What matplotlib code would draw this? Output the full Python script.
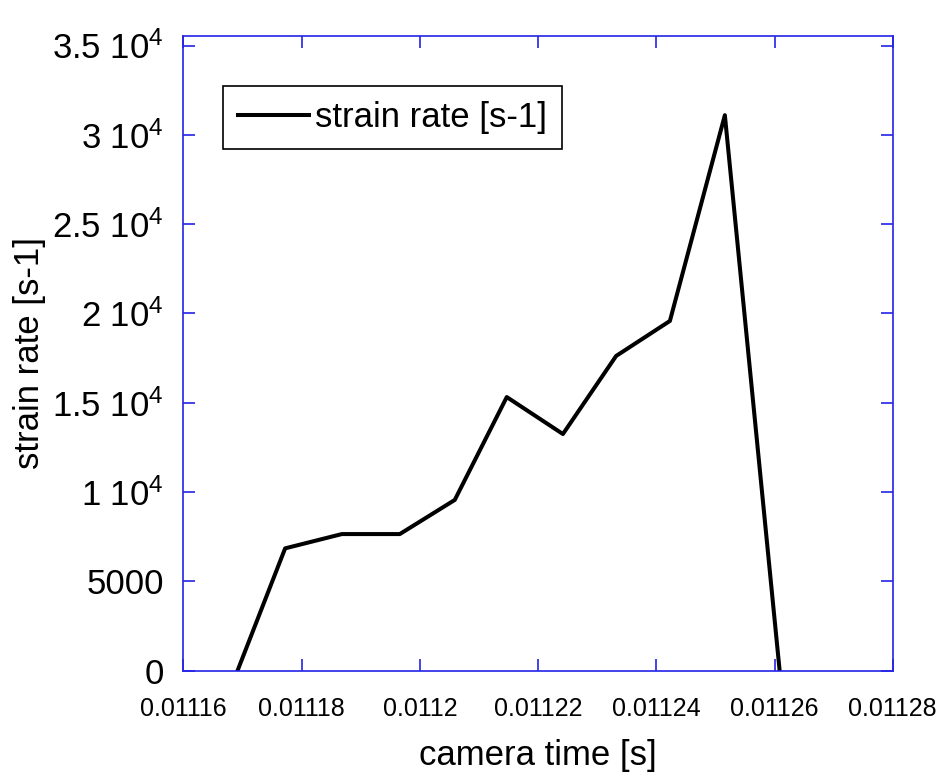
import matplotlib
matplotlib.use('Agg')
import matplotlib.pyplot as plt
from matplotlib.ticker import FixedLocator, FixedFormatter

plt.rcParams['font.family'] = ['Liberation Sans', 'DejaVu Sans']
plt.rcParams['mathtext.fontset'] = 'custom'
plt.rcParams['mathtext.rm'] = 'Liberation Sans'

# camera frames and measured strain rate
camera_time = [0.0111682, 0.0111772, 0.0111868, 0.0111966, 0.0112059, 0.0112147,
               0.0112242, 0.0112332, 0.0112423, 0.0112516, 0.0112609]
strain_rate = [-800, 6850, 7650, 7650, 9560, 15320, 13250, 17620, 19580, 31100, -100]

x_ticks = [0.01116, 0.01118, 0.0112, 0.01122, 0.01124, 0.01126, 0.01128]
x_labels = ['0.01116', '0.01118', '0.0112', '0.01122', '0.01124', '0.01126', '0.01128']
y_ticks = [0, 5000, 10000, 15000, 20000, 25000, 30000, 35000]
y_labels = ['0', '5000', r'1 $\mathregular{10^{4}}$', r'1.5 $\mathregular{10^{4}}$',
            r'2 $\mathregular{10^{4}}$', r'2.5 $\mathregular{10^{4}}$',
            r'3 $\mathregular{10^{4}}$', r'3.5 $\mathregular{10^{4}}$']

frame_col = '#2424e6'

fig = plt.figure(figsize=(9.39, 7.8), dpi=100)
ax = fig.add_axes([0.1954, 0.1401, 0.7553, 0.8137])

ax.plot(camera_time, strain_rate, color='black', lw=2.9, label='strain rate [s-1]')

ax.set_xlim(0.01116, 0.01128)
ax.set_ylim(0, 35530)

ax.xaxis.set_major_locator(FixedLocator(x_ticks))
ax.xaxis.set_major_formatter(FixedFormatter(x_labels))
ax.yaxis.set_major_locator(FixedLocator(y_ticks))
ax.yaxis.set_major_formatter(FixedFormatter(y_labels))

for s in ax.spines.values():
    s.set_color(frame_col)
    s.set_linewidth(1.2)

ax.tick_params(axis='both', direction='in', length=8.5, width=1.2, color=frame_col,
               top=True, right=True)
ax.tick_params(axis='x', labelsize=18, pad=19)
ax.tick_params(axis='y', labelsize=25, pad=14)

ax.set_xlabel('camera time [s]', fontsize=25)
ax.set_ylabel('strain rate [s-1]', fontsize=25)
ax.xaxis.set_label_coords(0.5, -0.108)
ax.yaxis.set_label_coords(-0.194, 0.5)

leg = ax.legend(loc='upper left', bbox_to_anchor=(0.0553, 0.9217), borderaxespad=0,
                fontsize=25, fancybox=False, framealpha=1, edgecolor='black',
                handlelength=2.05, handletextpad=0.17, borderpad=0.43)
leg.get_frame().set_linewidth(1.2)

fig.savefig('out.png', dpi=100)
